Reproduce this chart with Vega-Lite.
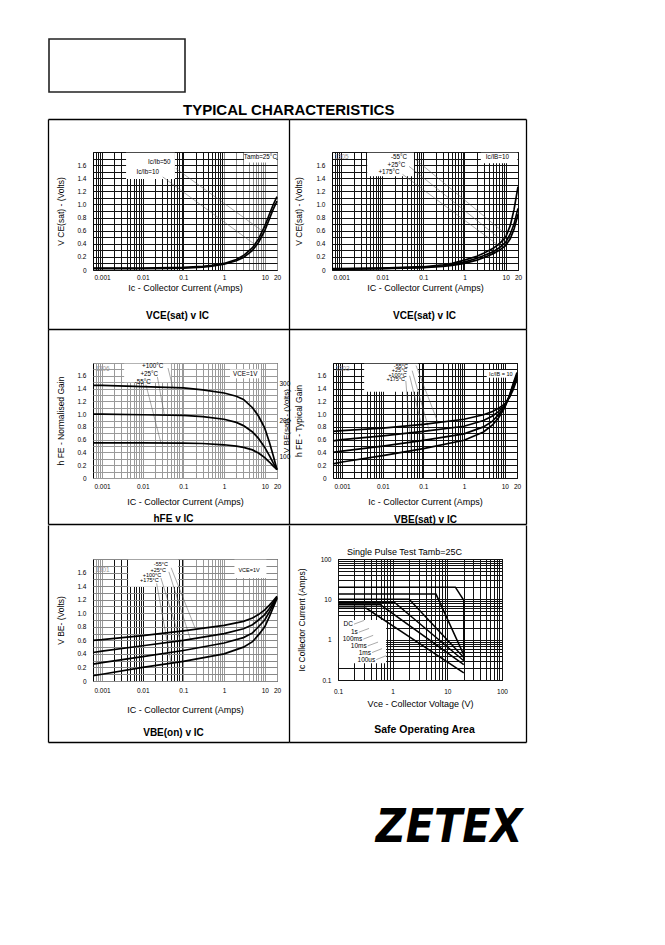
{
"$schema": "https://vega.github.io/schema/vega-lite/v6.json",
"background": "white",
"padding": {"left": 47, "top": 38, "right": 4, "bottom": 4},
"title": {"text": "ZETEX", "orient": "bottom", "anchor": "end", "offset": 29, "dx": -53, "font": "Liberation Sans Narrow, DejaVu Sans Condensed, sans-serif", "fontSize": 46, "fontStyle": "italic", "fontWeight": 900, "color": "#000"},
"spacing": -1,
"datasets": {
"frame": [{"f":0.5}],
"tl_c": [
{"s":"50","x":0.0006,"y":0.03},{"s":"50","x":0.001,"y":0.03},{"s":"50","x":0.01,"y":0.03},{"s":"50","x":0.05,"y":0.035},{"s":"50","x":0.1,"y":0.04},{"s":"50","x":0.3,"y":0.055},{"s":"50","x":0.5,"y":0.07},{"s":"50","x":1,"y":0.1},{"s":"50","x":2,"y":0.16},{"s":"50","x":3,"y":0.22},{"s":"50","x":5,"y":0.34},{"s":"50","x":7,"y":0.47},{"s":"50","x":10,"y":0.67},{"s":"50","x":13,"y":0.85},{"s":"50","x":16,"y":0.99},{"s":"50","x":20,"y":1.12},
{"s":"10","x":0.0006,"y":0.02},{"s":"10","x":0.001,"y":0.02},{"s":"10","x":0.01,"y":0.02},{"s":"10","x":0.05,"y":0.025},{"s":"10","x":0.1,"y":0.03},{"s":"10","x":0.3,"y":0.045},{"s":"10","x":0.5,"y":0.06},{"s":"10","x":1,"y":0.09},{"s":"10","x":2,"y":0.14},{"s":"10","x":3,"y":0.19},{"s":"10","x":5,"y":0.3},{"s":"10","x":7,"y":0.42},{"s":"10","x":10,"y":0.6},{"s":"10","x":13,"y":0.78},{"s":"10","x":16,"y":0.92},{"s":"10","x":20,"y":1.05}
],
"tl_b": [{"x":0.0039,"xe":0.062,"y":1.39,"ye":1.79},{"x":3.1,"xe":19.4,"y":1.64,"ye":1.79}],
"tl_l": [{"x":0.065,"y":1.55,"xe":8.5,"ye":0.6},{"x":0.031,"y":1.42,"xe":6,"ye":0.38}],
"tl_t": [{"t":"Ic/Ib=50","x":0.0256,"y":1.65},{"t":"Ic/Ib=10","x":0.0133,"y":1.49},{"t":"Tamb=25°C","x":7.8,"y":1.73}],
"tr_c": [
{"s":"a","x":0.0006,"y":0.02},{"s":"a","x":0.01,"y":0.03},{"s":"a","x":0.1,"y":0.05},{"s":"a","x":0.3,"y":0.08},{"s":"a","x":0.5,"y":0.1},{"s":"a","x":1,"y":0.15},{"s":"a","x":2,"y":0.21},{"s":"a","x":3,"y":0.26},{"s":"a","x":5,"y":0.33},{"s":"a","x":7,"y":0.4},{"s":"a","x":10,"y":0.5},{"s":"a","x":13,"y":0.68},{"s":"a","x":16,"y":0.92},{"s":"a","x":20,"y":1.27},
{"s":"b","x":0.0006,"y":0.015},{"s":"b","x":0.01,"y":0.025},{"s":"b","x":0.1,"y":0.04},{"s":"b","x":0.3,"y":0.065},{"s":"b","x":0.5,"y":0.085},{"s":"b","x":1,"y":0.12},{"s":"b","x":2,"y":0.18},{"s":"b","x":3,"y":0.22},{"s":"b","x":5,"y":0.28},{"s":"b","x":7,"y":0.34},{"s":"b","x":10,"y":0.42},{"s":"b","x":13,"y":0.55},{"s":"b","x":16,"y":0.7},{"s":"b","x":20,"y":0.94},
{"s":"c","x":0.0006,"y":0.01},{"s":"c","x":0.01,"y":0.02},{"s":"c","x":0.1,"y":0.035},{"s":"c","x":0.3,"y":0.055},{"s":"c","x":0.5,"y":0.07},{"s":"c","x":1,"y":0.1},{"s":"c","x":2,"y":0.15},{"s":"c","x":3,"y":0.19},{"s":"c","x":5,"y":0.25},{"s":"c","x":7,"y":0.3},{"s":"c","x":10,"y":0.37},{"s":"c","x":13,"y":0.48},{"s":"c","x":16,"y":0.62},{"s":"c","x":20,"y":0.85}
],
"tr_b": [{"x":0.0043,"xe":0.059,"y":1.43,"ye":1.79},{"x":2.5,"xe":19.4,"y":1.63,"ye":1.79}],
"tr_l": [{"x":0.063,"y":1.69,"xe":10,"ye":0.55},{"x":0.045,"y":1.58,"xe":9,"ye":0.43},{"x":0.031,"y":1.46,"xe":8,"ye":0.34}],
"tr_t": [{"t":"-55°C","x":0.0256,"y":1.72},{"t":"+25°C","x":0.022,"y":1.6},{"t":"+175°C","x":0.0146,"y":1.49},{"t":"Ic/IB=10","x":6.3,"y":1.73}],
"tr_k": [{"t":"1305","x":0.00068,"y":1.72}],
"ml_c": [
{"s":"h","x":0.0006,"y":1.45},{"s":"h","x":0.001,"y":1.45},{"s":"h","x":0.01,"y":1.43},{"s":"h","x":0.1,"y":1.41},{"s":"h","x":0.3,"y":1.38},{"s":"h","x":1,"y":1.33},{"s":"h","x":2,"y":1.28},{"s":"h","x":3,"y":1.23},{"s":"h","x":5,"y":1.1},{"s":"h","x":7,"y":0.97},{"s":"h","x":10,"y":0.78},{"s":"h","x":13,"y":0.56},{"s":"h","x":16,"y":0.36},{"s":"h","x":20,"y":0.13},
{"s":"m","x":0.0006,"y":1.0},{"s":"m","x":0.001,"y":1.0},{"s":"m","x":0.01,"y":0.99},{"s":"m","x":0.1,"y":0.98},{"s":"m","x":0.3,"y":0.96},{"s":"m","x":1,"y":0.92},{"s":"m","x":2,"y":0.87},{"s":"m","x":3,"y":0.82},{"s":"m","x":5,"y":0.72},{"s":"m","x":7,"y":0.62},{"s":"m","x":10,"y":0.48},{"s":"m","x":13,"y":0.35},{"s":"m","x":16,"y":0.24},{"s":"m","x":20,"y":0.13},
{"s":"l","x":0.0006,"y":0.55},{"s":"l","x":0.001,"y":0.55},{"s":"l","x":0.01,"y":0.55},{"s":"l","x":0.1,"y":0.545},{"s":"l","x":0.3,"y":0.54},{"s":"l","x":1,"y":0.52},{"s":"l","x":2,"y":0.5},{"s":"l","x":3,"y":0.48},{"s":"l","x":5,"y":0.44},{"s":"l","x":7,"y":0.39},{"s":"l","x":10,"y":0.32},{"s":"l","x":13,"y":0.25},{"s":"l","x":16,"y":0.19},{"s":"l","x":20,"y":0.13}
],
"ml_b": [{"x":0.0035,"xe":0.05,"y":1.5,"ye":1.79},{"x":1.4,"xe":8,"y":1.56,"ye":1.7}],
"ml_l": [{"x":0.042,"y":1.72,"xe":0.055,"ye":1.42},{"x":0.023,"y":1.58,"xe":0.034,"ye":0.99},{"x":0.012,"y":1.46,"xe":0.028,"ye":0.55}],
"ml_t": [{"t":"+100°C","x":0.0176,"y":1.76},{"t":"+25°C","x":0.0145,"y":1.63},{"t":"-55°C","x":0.01,"y":1.51},{"t":"VCE=1V","x":3.3,"y":1.63}],
"ml_k": [{"t":"1306","x":0.00068,"y":1.7}],
"ml_r": [{"r":100},{"r":300}],
"mr_c": [
{"s":"1","x":0.0006,"y":0.73},{"s":"1","x":0.001,"y":0.74},{"s":"1","x":0.01,"y":0.78},{"s":"1","x":0.1,"y":0.84},{"s":"1","x":1,"y":0.92},{"s":"1","x":3,"y":0.99},{"s":"1","x":5,"y":1.04},{"s":"1","x":7,"y":1.09},{"s":"1","x":10,"y":1.16},{"s":"1","x":13,"y":1.26},{"s":"1","x":16,"y":1.38},{"s":"1","x":20,"y":1.55},
{"s":"2","x":0.0006,"y":0.58},{"s":"2","x":0.001,"y":0.6},{"s":"2","x":0.01,"y":0.66},{"s":"2","x":0.1,"y":0.73},{"s":"2","x":1,"y":0.81},{"s":"2","x":3,"y":0.9},{"s":"2","x":5,"y":0.97},{"s":"2","x":7,"y":1.04},{"s":"2","x":10,"y":1.14},{"s":"2","x":13,"y":1.27},{"s":"2","x":16,"y":1.42},{"s":"2","x":20,"y":1.59},
{"s":"3","x":0.0006,"y":0.4},{"s":"3","x":0.001,"y":0.42},{"s":"3","x":0.01,"y":0.5},{"s":"3","x":0.1,"y":0.59},{"s":"3","x":1,"y":0.69},{"s":"3","x":3,"y":0.8},{"s":"3","x":5,"y":0.89},{"s":"3","x":7,"y":0.99},{"s":"3","x":10,"y":1.12},{"s":"3","x":13,"y":1.28},{"s":"3","x":16,"y":1.45},{"s":"3","x":20,"y":1.62},
{"s":"4","x":0.0006,"y":0.22},{"s":"4","x":0.001,"y":0.25},{"s":"4","x":0.01,"y":0.35},{"s":"4","x":0.1,"y":0.46},{"s":"4","x":1,"y":0.59},{"s":"4","x":3,"y":0.72},{"s":"4","x":5,"y":0.83},{"s":"4","x":7,"y":0.94},{"s":"4","x":10,"y":1.1},{"s":"4","x":13,"y":1.29},{"s":"4","x":16,"y":1.47},{"s":"4","x":20,"y":1.65}
],
"mr_b": [{"x":0.0035,"xe":0.074,"y":1.35,"ye":1.79},{"x":3.6,"xe":19,"y":1.57,"ye":1.69}],
"mr_l": [{"x":0.066,"y":1.76,"xe":0.23,"ye":0.86},{"x":0.053,"y":1.68,"xe":0.14,"ye":0.74},{"x":0.046,"y":1.6,"xe":0.11,"ye":0.6},{"x":0.037,"y":1.52,"xe":0.05,"ye":0.43}],
"mr_t": [{"t":"-55°C","x":0.028,"y":1.76},{"t":"+25°C","x":0.026,"y":1.69},{"t":"+100°C","x":0.023,"y":1.62},{"t":"+175°C","x":0.021,"y":1.55},{"t":"Ic/IB = 10","x":8,"y":1.63}],
"mr_k": [{"t":"1303","x":0.00068,"y":1.7}],
"bl_c": [
{"s":"1","x":0.0006,"y":0.6},{"s":"1","x":0.001,"y":0.61},{"s":"1","x":0.01,"y":0.67},{"s":"1","x":0.1,"y":0.74},{"s":"1","x":1,"y":0.82},{"s":"1","x":3,"y":0.88},{"s":"1","x":5,"y":0.93},{"s":"1","x":7,"y":0.98},{"s":"1","x":10,"y":1.05},{"s":"1","x":13,"y":1.12},{"s":"1","x":16,"y":1.18},{"s":"1","x":20,"y":1.25},
{"s":"2","x":0.0006,"y":0.42},{"s":"2","x":0.001,"y":0.44},{"s":"2","x":0.01,"y":0.52},{"s":"2","x":0.1,"y":0.6},{"s":"2","x":1,"y":0.7},{"s":"2","x":3,"y":0.77},{"s":"2","x":5,"y":0.83},{"s":"2","x":7,"y":0.9},{"s":"2","x":10,"y":0.98},{"s":"2","x":13,"y":1.07},{"s":"2","x":16,"y":1.15},{"s":"2","x":20,"y":1.24},
{"s":"3","x":0.0006,"y":0.25},{"s":"3","x":0.001,"y":0.27},{"s":"3","x":0.01,"y":0.36},{"s":"3","x":0.1,"y":0.45},{"s":"3","x":1,"y":0.56},{"s":"3","x":3,"y":0.64},{"s":"3","x":5,"y":0.71},{"s":"3","x":7,"y":0.8},{"s":"3","x":10,"y":0.9},{"s":"3","x":13,"y":1.02},{"s":"3","x":16,"y":1.12},{"s":"3","x":20,"y":1.23},
{"s":"4","x":0.0006,"y":0.08},{"s":"4","x":0.001,"y":0.1},{"s":"4","x":0.01,"y":0.2},{"s":"4","x":0.1,"y":0.29},{"s":"4","x":1,"y":0.4},{"s":"4","x":3,"y":0.5},{"s":"4","x":5,"y":0.58},{"s":"4","x":7,"y":0.68},{"s":"4","x":10,"y":0.8},{"s":"4","x":13,"y":0.95},{"s":"4","x":16,"y":1.08},{"s":"4","x":20,"y":1.22}
],
"bl_b": [{"x":0.0044,"xe":0.074,"y":1.39,"ye":1.79},{"x":1.8,"xe":11,"y":1.52,"ye":1.79}],
"bl_l": [{"x":0.05,"y":1.67,"xe":0.2,"ye":0.76},{"x":0.044,"y":1.61,"xe":0.15,"ye":0.61},{"x":0.028,"y":1.52,"xe":0.1,"ye":0.45},{"x":0.022,"y":1.44,"xe":0.05,"ye":0.26}],
"bl_t": [{"t":"-55°C","x":0.028,"y":1.72},{"t":"+25°C","x":0.024,"y":1.64},{"t":"+100°C","x":0.0169,"y":1.56},{"t":"+175°C","x":0.0146,"y":1.49},{"t":"VCE=1V","x":4.1,"y":1.64}],
"bl_k": [{"t":"1301","x":0.00068,"y":1.64}],
"soa_c": [
{"s":"100us","o":0,"x":0.1,"y":20},{"s":"100us","o":1,"x":14,"y":20},{"s":"100us","o":2,"x":20,"y":9.5},{"s":"100us","o":3,"x":20,"y":0.3},
{"s":"1ms","o":0,"x":0.1,"y":13.5},{"s":"1ms","o":1,"x":6.2,"y":13.5},{"s":"1ms","o":2,"x":20,"y":0.42},
{"s":"10ms","o":0,"x":0.1,"y":10},{"s":"10ms","o":1,"x":2,"y":10},{"s":"10ms","o":2,"x":20,"y":0.36},
{"s":"100ms","o":0,"x":0.1,"y":8.5},{"s":"100ms","o":1,"x":1.07,"y":8.5},{"s":"100ms","o":2,"x":20,"y":0.3},
{"s":"1s","o":0,"x":0.1,"y":7.3},{"s":"1s","o":1,"x":0.6,"y":7.3},{"s":"1s","o":2,"x":20,"y":0.24},
{"s":"DC","o":0,"x":0.1,"y":6},{"s":"DC","o":1,"x":0.33,"y":6},{"s":"DC","o":2,"x":20,"y":0.15}
],
"soa_b": [{"x":0.104,"xe":0.76,"y":0.26,"ye":3.06}],
"soa_l": [{"x":0.196,"y":2.42,"xe":0.3,"ye":3.0},{"x":0.24,"y":1.53,"xe":0.37,"ye":1.9},{"x":0.29,"y":1.03,"xe":0.44,"ye":1.28},{"x":0.35,"y":0.7,"xe":0.54,"ye":0.87},{"x":0.42,"y":0.48,"xe":0.64,"ye":0.6},{"x":0.5,"y":0.32,"xe":0.76,"ye":0.4}],
"soa_t": [{"t":"DC","x":0.187,"y":2.42},{"t":"1s","x":0.23,"y":1.53},{"t":"100ms","x":0.277,"y":1.03},{"t":"10ms","x":0.336,"y":0.7},{"t":"1ms","x":0.4,"y":0.48},{"t":"100us","x":0.48,"y":0.32}]
},
"vconcat": [
{"width": 136, "height": 53, "data": {"values": [{}]}, "mark": {"type": "text", "text": ""}, "view": {"stroke": "#222", "strokeWidth": 1.6},
 "title": {"text": "TYPICAL CHARACTERISTICS", "orient": "bottom", "anchor": "start", "dx": 134, "offset": 11, "fontSize": 15, "fontWeight": "bold"}},
{"spacing": -3,
 "hconcat": [
 {"width": 1, "height": 1, "data": {"values": [{}]}, "mark": {"type": "text", "text": ""}, "view": {"stroke": null}},
 {"spacing": -5,
 "vconcat": [
  {"hconcat": [
   {"width": 184, "height": 118,
    "resolve": {"scale": {"x": "independent", "y": "independent"}, "axis": {"x": "independent", "y": "independent"}},
    "layer": [
     {"encoding": {
      "x": {"field": "x", "type": "quantitative", "scale": {"type": "log", "domain": [0.0006, 20], "nice": false},
       "axis": {"title": "Ic - Collector Current (Amps)", "labelPadding": 4, "values": [0.0007,0.0008,0.0009,0.001,0.002,0.003,0.004,0.005,0.006,0.007,0.008,0.009,0.01,0.02,0.03,0.04,0.05,0.06,0.07,0.08,0.09,0.1,0.2,0.3,0.4,0.5,0.6,0.7,0.8,0.9,1,2,3,4,5,6,7,8,9,10,20], "labelExpr": "indexof([0.001,0.01,0.1,1,10,20], datum.value) >= 0 ? format(datum.value, '~g') : ''", "grid": true, "gridColor": {"condition": {"test": "datum.value >= 1", "value": "#8c8c8c"}, "value": "#111"}}},
      "y": {"field": "y", "type": "quantitative", "scale": {"domain": [0, 1.8], "nice": false, "zero": false},
       "axis": {"title": "V  CE(sat)  - (Volts)", "values": [0,0.1,0.2,0.3,0.4,0.5,0.6,0.7,0.8,0.9,1,1.1,1.2,1.3,1.4,1.5,1.6,1.7,1.8], "labelExpr": "indexof([0.2,0.4,0.6,0.8,1,1.2,1.4,1.6], datum.value) >= 0 ? format(datum.value, '.1f') : (datum.value == 0 ? '0' : '')", "grid": true, "gridColor": "#111"}}
     },
     "layer": [
      {"data": {"name": "tl_b"}, "mark": {"type": "rect", "color": "#fff", "opacity": 1}, "encoding": {"x2": {"field": "xe"}, "y2": {"field": "ye"}}},
      {"data": {"name": "tl_l"}, "mark": {"type": "rule", "color": "#555", "strokeWidth": 0.5}, "encoding": {"x2": {"field": "xe"}, "y2": {"field": "ye"}}},
      {"data": {"name": "tl_c"}, "mark": {"type": "line", "color": "#000", "strokeWidth": 1.7}, "encoding": {"detail": {"field": "s", "type": "nominal"}}},
      {"data": {"name": "tl_t"}, "mark": {"type": "text", "fontSize": 6.3}, "encoding": {"text": {"field": "t"}}}
     ]},
     {"data": {"name": "frame"}, "mark": {"type": "point", "opacity": 0, "size": 0}, "encoding": {
      "x": {"field": "f", "type": "quantitative", "scale": {"domain": [0, 1], "range": [-45, 196]}, "axis": {"orient": "bottom", "offset": 59, "labels": false, "grid": false, "domain": true, "domainColor": "#000", "domainWidth": 1.3, "minExtent": 0, "maxExtent": 0, "title": "VCE(sat) v IC", "titleFontSize": 10, "titleFontWeight": "bold", "titleX": 84, "titleY": -14, "titleBaseline": "middle", "titleAlign": "center"}},
      "y": {"field": "f", "type": "quantitative", "scale": {"domain": [0, 1], "range": [177, -33]}, "axis": {"orient": "left", "offset": 45, "labels": false, "title": null, "grid": false, "domain": true, "domainColor": "#000", "domainWidth": 1.3, "minExtent": 0, "maxExtent": 0}}}},
     {"data": {"name": "frame"}, "mark": {"type": "point", "opacity": 0, "size": 0}, "encoding": {
      "x": {"field": "f", "type": "quantitative", "scale": {"domain": [0, 1], "range": [-45, 196]}, "axis": {"orient": "top", "offset": 33, "labels": false, "title": null, "grid": false, "domain": true, "domainColor": "#000", "domainWidth": 1.3, "minExtent": 0, "maxExtent": 0}}}}
    ]},
   {"width": 186, "height": 118,
    "resolve": {"scale": {"x": "independent", "y": "independent"}, "axis": {"x": "independent", "y": "independent"}},
    "layer": [
     {"encoding": {
      "x": {"field": "x", "type": "quantitative", "scale": {"type": "log", "domain": [0.0006, 20], "nice": false},
       "axis": {"title": "IC - Collector Current (Amps)", "labelPadding": 4, "values": [0.0007,0.0008,0.0009,0.001,0.002,0.003,0.004,0.005,0.006,0.007,0.008,0.009,0.01,0.02,0.03,0.04,0.05,0.06,0.07,0.08,0.09,0.1,0.2,0.3,0.4,0.5,0.6,0.7,0.8,0.9,1,2,3,4,5,6,7,8,9,10,20], "labelExpr": "indexof([0.001,0.01,0.1,1,10,20], datum.value) >= 0 ? format(datum.value, '~g') : ''", "grid": true, "gridColor": "#111"}},
      "y": {"field": "y", "type": "quantitative", "scale": {"domain": [0, 1.8], "nice": false, "zero": false},
       "axis": {"title": "V  CE(sat)  - (Volts)", "titlePadding": 11, "values": [0,0.1,0.2,0.3,0.4,0.5,0.6,0.7,0.8,0.9,1,1.1,1.2,1.3,1.4,1.5,1.6,1.7,1.8], "labelExpr": "indexof([0.2,0.4,0.6,0.8,1,1.2,1.4,1.6], datum.value) >= 0 ? format(datum.value, '.1f') : (datum.value == 0 ? '0' : '')", "grid": true, "gridColor": "#111"}}
     },
     "layer": [
      {"data": {"name": "tr_b"}, "mark": {"type": "rect", "color": "#fff", "opacity": 1}, "encoding": {"x2": {"field": "xe"}, "y2": {"field": "ye"}}},
      {"data": {"name": "tr_l"}, "mark": {"type": "rule", "color": "#555", "strokeWidth": 0.5}, "encoding": {"x2": {"field": "xe"}, "y2": {"field": "ye"}}},
      {"data": {"name": "tr_c"}, "mark": {"type": "line", "color": "#000", "strokeWidth": 1.7}, "encoding": {"detail": {"field": "s", "type": "nominal"}}},
      {"data": {"name": "tr_t"}, "mark": {"type": "text", "fontSize": 6.3}, "encoding": {"text": {"field": "t"}}},
      {"data": {"name": "tr_k"}, "mark": {"type": "text", "fontSize": 6.5, "align": "left", "color": "#999"}, "encoding": {"text": {"field": "t"}}}
     ]},
     {"data": {"name": "frame"}, "mark": {"type": "point", "opacity": 0, "size": 0}, "encoding": {
      "x": {"field": "f", "type": "quantitative", "scale": {"domain": [0, 1], "range": [-43, 194]}, "axis": {"orient": "bottom", "offset": 59, "labels": false, "grid": false, "domain": true, "domainColor": "#000", "domainWidth": 1.3, "minExtent": 0, "maxExtent": 0, "title": "VCE(sat) v IC", "titleFontSize": 10, "titleFontWeight": "bold", "titleX": 92, "titleY": -14, "titleBaseline": "middle", "titleAlign": "center"}},
      "y": {"field": "f", "type": "quantitative", "scale": {"domain": [0, 1], "range": [177, -33]}, "axis": {"orient": "left", "offset": 43, "labels": false, "title": null, "grid": false, "domain": true, "domainColor": "#000", "domainWidth": 1.3, "minExtent": 0, "maxExtent": 0}}}},
     {"data": {"name": "frame"}, "mark": {"type": "point", "opacity": 0, "size": 0}, "encoding": {
      "x": {"field": "f", "type": "quantitative", "scale": {"domain": [0, 1], "range": [-43, 194]}, "axis": {"orient": "top", "offset": 33, "labels": false, "title": null, "grid": false, "domain": true, "domainColor": "#000", "domainWidth": 1.3, "minExtent": 0, "maxExtent": 0}},
      "y": {"field": "f", "type": "quantitative", "scale": {"domain": [0, 1], "range": [177, -33]}, "axis": {"orient": "right", "offset": 8, "labels": false, "title": null, "grid": false, "domain": true, "domainColor": "#000", "domainWidth": 1.3, "minExtent": 0, "maxExtent": 0}}}}
    ]}
  ], "spacing": 55, "bounds": "flush"},
  {"spacing": -13, "vconcat": [
   {"hconcat": [
    {"width": 184, "height": 115,
     "resolve": {"scale": {"x": "independent", "y": "independent"}, "axis": {"x": "independent", "y": "independent"}},
     "layer": [
      {"encoding": {
        "x": {"field": "x", "type": "quantitative", "scale": {"type": "log", "domain": [0.0006, 20], "nice": false},
         "axis": {"title": "IC - Collector Current (Amps)", "labelPadding": 5, "titlePadding": 8, "values": [0.0007,0.0008,0.0009,0.001,0.002,0.003,0.004,0.005,0.006,0.007,0.008,0.009,0.01,0.02,0.03,0.04,0.05,0.06,0.07,0.08,0.09,0.1,0.2,0.3,0.4,0.5,0.6,0.7,0.8,0.9,1,2,3,4,5,6,7,8,9,10,20], "labelExpr": "indexof([0.001,0.01,0.1,1,10,20], datum.value) >= 0 ? format(datum.value, '~g') : ''", "grid": true, "gridColor": "#9a9a9a"}},
        "y": {"field": "y", "type": "quantitative", "scale": {"domain": [0, 1.8], "nice": false, "zero": false},
         "axis": {"title": "h  FE - Normalised Gain", "values": [0,0.1,0.2,0.3,0.4,0.5,0.6,0.7,0.8,0.9,1,1.1,1.2,1.3,1.4,1.5,1.6,1.7,1.8], "labelExpr": "indexof([0.2,0.4,0.6,0.8,1,1.2,1.4,1.6], datum.value) >= 0 ? format(datum.value, '.1f') : (datum.value == 0 ? '0' : '')", "grid": true, "gridColor": "#9a9a9a"}}
       },
       "layer": [
        {"data": {"name": "ml_b"}, "mark": {"type": "rect", "color": "#fff", "opacity": 1}, "encoding": {"x2": {"field": "xe"}, "y2": {"field": "ye"}}},
        {"data": {"name": "ml_l"}, "mark": {"type": "rule", "color": "#555", "strokeWidth": 0.5}, "encoding": {"x2": {"field": "xe"}, "y2": {"field": "ye"}}},
        {"data": {"name": "ml_c"}, "mark": {"type": "line", "color": "#000", "strokeWidth": 1.7}, "encoding": {"detail": {"field": "s", "type": "nominal"}}},
        {"data": {"name": "ml_t"}, "mark": {"type": "text", "fontSize": 6.3}, "encoding": {"text": {"field": "t"}}},
        {"data": {"name": "ml_k"}, "mark": {"type": "text", "fontSize": 6.5, "align": "left", "color": "#999"}, "encoding": {"text": {"field": "t"}}}
       ]},
      {"data": {"name": "ml_r"}, "mark": {"type": "point", "opacity": 0, "size": 0},
       "encoding": {"y": {"field": "r", "type": "quantitative", "scale": {"domain": [42, 357], "nice": false, "zero": false},
        "axis": {"orient": "right", "values": [100, 200, 300], "title": "V BE(sat) - (Volts)", "grid": false, "labelPadding": 2, "minExtent": 12, "maxExtent": 12, "titlePadding": 1, "titleAngle": 270, "titleFontSize": 8}}}},
      {"data": {"name": "frame"}, "mark": {"type": "point", "opacity": 0, "size": 0}, "encoding": {
       "x": {"field": "f", "type": "quantitative", "scale": {"domain": [0, 1], "range": [-45, 196]}, "axis": {"orient": "bottom", "offset": 46, "labels": false, "grid": false, "domain": true, "domainColor": "#000", "domainWidth": 1.3, "minExtent": 0, "maxExtent": 0, "title": "hFE v IC", "titleFontSize": 10, "titleFontWeight": "bold", "titleX": 80, "titleY": -6, "titleBaseline": "middle", "titleAlign": "center"}},
       "y": {"field": "f", "type": "quantitative", "scale": {"domain": [0, 1], "range": [161, -34]}, "axis": {"orient": "left", "offset": 45, "labels": false, "title": null, "grid": false, "domain": true, "domainColor": "#000", "domainWidth": 1.3, "minExtent": 0, "maxExtent": 0}}}}
     ]},
    {"width": 184, "height": 115,
     "resolve": {"scale": {"x": "independent", "y": "independent"}, "axis": {"x": "independent", "y": "independent"}},
     "layer": [
      {"encoding": {
       "x": {"field": "x", "type": "quantitative", "scale": {"type": "log", "domain": [0.0006, 20], "nice": false},
        "axis": {"title": "Ic - Collector Current (Amps)", "labelPadding": 5, "titlePadding": 8, "values": [0.0007,0.0008,0.0009,0.001,0.002,0.003,0.004,0.005,0.006,0.007,0.008,0.009,0.01,0.02,0.03,0.04,0.05,0.06,0.07,0.08,0.09,0.1,0.2,0.3,0.4,0.5,0.6,0.7,0.8,0.9,1,2,3,4,5,6,7,8,9,10,20], "labelExpr": "indexof([0.001,0.01,0.1,1,10,20], datum.value) >= 0 ? format(datum.value, '~g') : ''", "grid": true, "gridColor": "#111"}},
       "y": {"field": "y", "type": "quantitative", "scale": {"domain": [0, 1.8], "nice": false, "zero": false},
        "axis": {"title": "h  FE - Typical Gain", "titlePadding": 12, "values": [0,0.1,0.2,0.3,0.4,0.5,0.6,0.7,0.8,0.9,1,1.1,1.2,1.3,1.4,1.5,1.6,1.7,1.8], "labelExpr": "indexof([0.2,0.4,0.6,0.8,1,1.2,1.4,1.6], datum.value) >= 0 ? format(datum.value, '.1f') : (datum.value == 0 ? '0' : '')", "grid": true, "gridColor": "#111"}}
      },
      "layer": [
       {"data": {"name": "mr_b"}, "mark": {"type": "rect", "color": "#fff", "opacity": 1}, "encoding": {"x2": {"field": "xe"}, "y2": {"field": "ye"}}},
       {"data": {"name": "mr_l"}, "mark": {"type": "rule", "color": "#555", "strokeWidth": 0.5}, "encoding": {"x2": {"field": "xe"}, "y2": {"field": "ye"}}},
       {"data": {"name": "mr_c"}, "mark": {"type": "line", "color": "#000", "strokeWidth": 1.7}, "encoding": {"detail": {"field": "s", "type": "nominal"}}},
       {"data": {"name": "mr_t"}, "mark": {"type": "text", "fontSize": 5.5}, "encoding": {"text": {"field": "t"}}},
       {"data": {"name": "mr_k"}, "mark": {"type": "text", "fontSize": 6.5, "align": "left", "color": "#999"}, "encoding": {"text": {"field": "t"}}}
      ]},
      {"data": {"name": "frame"}, "mark": {"type": "point", "opacity": 0, "size": 0}, "encoding": {
       "x": {"field": "f", "type": "quantitative", "scale": {"domain": [0, 1], "range": [-44, 193]}, "axis": {"orient": "bottom", "offset": 46, "labels": false, "grid": false, "domain": true, "domainColor": "#000", "domainWidth": 1.3, "minExtent": 0, "maxExtent": 0, "title": "VBE(sat) v IC", "titleFontSize": 10, "titleFontWeight": "bold", "titleX": 92, "titleY": -5, "titleBaseline": "middle", "titleAlign": "center"}},
       "y": {"field": "f", "type": "quantitative", "scale": {"domain": [0, 1], "range": [161, -34]}, "axis": {"orient": "left", "offset": 44, "labels": false, "title": null, "grid": false, "domain": true, "domainColor": "#000", "domainWidth": 1.3, "minExtent": 0, "maxExtent": 0}}}},
      {"data": {"name": "frame"}, "mark": {"type": "point", "opacity": 0, "size": 0}, "encoding": {
       "y": {"field": "f", "type": "quantitative", "scale": {"domain": [0, 1], "range": [161, -34]}, "axis": {"orient": "right", "offset": 9, "labels": false, "title": null, "grid": false, "domain": true, "domainColor": "#000", "domainWidth": 1.3, "minExtent": 0, "maxExtent": 0}}}}
     ]}
   ], "spacing": 56, "bounds": "flush"},
   {"hconcat": [
    {"width": 184, "height": 122,
     "resolve": {"scale": {"x": "independent", "y": "independent"}, "axis": {"x": "independent", "y": "independent"}},
     "layer": [
      {"encoding": {
       "x": {"field": "x", "type": "quantitative", "scale": {"type": "log", "domain": [0.0006, 20], "nice": false},
        "axis": {"title": "IC - Collector Current (Amps)", "labelPadding": 6, "titlePadding": 12, "values": [0.0007,0.0008,0.0009,0.001,0.002,0.003,0.004,0.005,0.006,0.007,0.008,0.009,0.01,0.02,0.03,0.04,0.05,0.06,0.07,0.08,0.09,0.1,0.2,0.3,0.4,0.5,0.6,0.7,0.8,0.9,1,2,3,4,5,6,7,8,9,10,20], "labelExpr": "indexof([0.001,0.01,0.1,1,10,20], datum.value) >= 0 ? format(datum.value, '~g') : ''", "grid": true, "gridColor": {"condition": {"test": "datum.value >= 0.002 && datum.value < 0.1", "value": "#111"}, "value": "#999"}}},
       "y": {"field": "y", "type": "quantitative", "scale": {"domain": [0, 1.8], "nice": false, "zero": false},
        "axis": {"title": "V BE- (Volts)", "values": [0,0.1,0.2,0.3,0.4,0.5,0.6,0.7,0.8,0.9,1,1.1,1.2,1.3,1.4,1.5,1.6,1.7,1.8], "labelExpr": "indexof([0.2,0.4,0.6,0.8,1,1.2,1.4,1.6], datum.value) >= 0 ? format(datum.value, '.1f') : (datum.value == 0 ? '0' : '')", "grid": true, "gridColor": "#888"}}
      },
      "layer": [
       {"data": {"name": "bl_b"}, "mark": {"type": "rect", "color": "#fff", "opacity": 1}, "encoding": {"x2": {"field": "xe"}, "y2": {"field": "ye"}}},
       {"data": {"name": "bl_l"}, "mark": {"type": "rule", "color": "#555", "strokeWidth": 0.5}, "encoding": {"x2": {"field": "xe"}, "y2": {"field": "ye"}}},
       {"data": {"name": "bl_c"}, "mark": {"type": "line", "color": "#000", "strokeWidth": 1.7}, "encoding": {"detail": {"field": "s", "type": "nominal"}}},
       {"data": {"name": "bl_t"}, "mark": {"type": "text", "fontSize": 5.5}, "encoding": {"text": {"field": "t"}}},
       {"data": {"name": "bl_k"}, "mark": {"type": "text", "fontSize": 6.5, "align": "left", "color": "#999"}, "encoding": {"text": {"field": "t"}}}
      ]},
      {"data": {"name": "frame"}, "mark": {"type": "point", "opacity": 0, "size": 0}, "encoding": {
       "x": {"field": "f", "type": "quantitative", "scale": {"domain": [0, 1], "range": [-45, 196]}, "axis": {"orient": "bottom", "offset": 61, "labels": false, "grid": false, "domain": true, "domainColor": "#000", "domainWidth": 1.3, "minExtent": 0, "maxExtent": 0, "title": "VBE(on) v IC", "titleFontSize": 10, "titleFontWeight": "bold", "titleX": 80, "titleY": -10, "titleBaseline": "middle", "titleAlign": "center"}},
       "y": {"field": "f", "type": "quantitative", "scale": {"domain": [0, 1], "range": [183, -34]}, "axis": {"orient": "left", "offset": 45, "labels": false, "title": null, "grid": false, "domain": true, "domainColor": "#000", "domainWidth": 1.3, "minExtent": 0, "maxExtent": 0}}}}
     ]},
    {"width": 164, "height": 121,
     "resolve": {"scale": {"x": "independent", "y": "independent"}, "axis": {"x": "independent", "y": "independent"}},
     "layer": [
      {"encoding": {
        "x": {"field": "x", "type": "quantitative", "scale": {"type": "log", "domain": [0.1, 100], "nice": false},
         "axis": {"title": "Vce - Collector Voltage (V)", "labelPadding": 8, "titlePadding": 5, "values": [0.1,0.2,0.3,0.4,0.5,0.6,0.7,0.8,0.9,1,2,3,4,5,6,7,8,9,10,20,30,40,50,60,70,80,90,100], "labelExpr": "indexof([0.1,1,10,100], datum.value) >= 0 ? format(datum.value, '~g') : ''", "grid": true, "gridColor": "#111"}},
        "y": {"field": "y", "type": "quantitative", "scale": {"type": "log", "domain": [0.1, 100], "nice": false},
         "axis": {"title": "Ic Collector Current (Amps)", "titlePadding": 14, "values": [0.1,0.2,0.3,0.4,0.5,0.6,0.7,0.8,0.9,1,2,3,4,5,6,7,8,9,10,20,30,40,50,60,70,80,90,100], "labelExpr": "indexof([0.1,1,10,100], datum.value) >= 0 ? format(datum.value, '~g') : ''", "grid": true, "gridColor": "#111"}}
       },
       "layer": [
        {"data": {"name": "soa_b"}, "mark": {"type": "rect", "color": "#fff", "opacity": 1}, "encoding": {"x2": {"field": "xe"}, "y2": {"field": "ye"}}},
        {"data": {"name": "soa_l"}, "mark": {"type": "rule", "color": "#555", "strokeWidth": 0.5}, "encoding": {"x2": {"field": "xe"}, "y2": {"field": "ye"}}},
        {"data": {"name": "soa_c"}, "mark": {"type": "line", "color": "#000", "strokeWidth": 1.5}, "encoding": {"detail": {"field": "s", "type": "nominal"}, "order": {"field": "o", "type": "quantitative"}}},
        {"data": {"name": "soa_t"}, "mark": {"type": "text", "fontSize": 6.5, "align": "right"}, "encoding": {"text": {"field": "t"}}}
       ]},
      {"data": {"name": "soa_b"}, "mark": {"type": "point", "opacity": 0, "size": 0},
       "encoding": {"x": {"field": "x", "type": "quantitative", "scale": {"type": "log", "domain": [0.1, 100], "nice": false},
        "axis": {"orient": "top", "title": "Single Pulse Test Tamb=25C", "labels": false, "grid": false, "minExtent": 0, "maxExtent": 0, "titlePadding": 3, "titleFontSize": 9, "titleX": 66, "titleAlign": "center"}}}},
      {"data": {"name": "frame"}, "mark": {"type": "point", "opacity": 0, "size": 0}, "encoding": {
       "x": {"field": "f", "type": "quantitative", "scale": {"domain": [0, 1], "range": [-49, 188]}, "axis": {"orient": "bottom", "offset": 62, "labels": false, "grid": false, "domain": true, "domainColor": "#000", "domainWidth": 1.3, "minExtent": 0, "maxExtent": 0, "title": "Safe Operating Area", "titleFontSize": 10.5, "titleFontWeight": "bold", "titleX": 86, "titleY": -13, "titleBaseline": "middle", "titleAlign": "center"}},
       "y": {"field": "f", "type": "quantitative", "scale": {"domain": [0, 1], "range": [183, -34]}, "axis": {"orient": "left", "offset": 49, "labels": false, "title": null, "grid": false, "domain": true, "domainColor": "#000", "domainWidth": 1.3, "minExtent": 0, "maxExtent": 0}}}},
      {"data": {"name": "frame"}, "mark": {"type": "point", "opacity": 0, "size": 0}, "encoding": {
       "y": {"field": "f", "type": "quantitative", "scale": {"domain": [0, 1], "range": [183, -34]}, "axis": {"orient": "right", "offset": 24, "labels": false, "title": null, "grid": false, "domain": true, "domainColor": "#000", "domainWidth": 1.3, "minExtent": 0, "maxExtent": 0}}}}
     ]}
   ], "spacing": 61, "bounds": "flush"}
  ]}
 ]}
 ]}
],
"config": {
 "font": "Liberation Sans",
 "view": {"stroke": "#000", "strokeWidth": 1},
 "axis": {"labelFont": "Liberation Sans", "titleFont": "Liberation Sans", "labelColor": "#000", "titleColor": "#000", "titleFontWeight": "normal", "labelFontSize": 6.5, "titleFontSize": 9, "ticks": false, "domain": false, "labelOverlap": false, "labelFlush": false, "gridWidth": 1, "gridOpacity": 1},
 "axisX": {"labelPadding": 6, "titlePadding": 3},
 "axisY": {"labelPadding": 7, "minExtent": 18, "maxExtent": 18, "titlePadding": 10, "titleFontSize": 8.5},
 "title": {"font": "Liberation Sans", "color": "#000"},
 "text": {"font": "Liberation Sans", "color": "#000"}
}
}
